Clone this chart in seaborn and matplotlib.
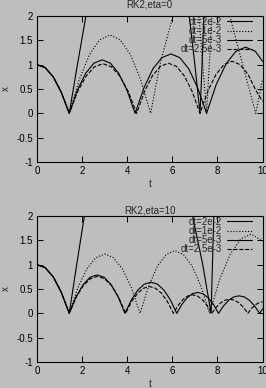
import matplotlib
matplotlib.use("Agg")
import matplotlib.pyplot as plt
import seaborn as sns
from matplotlib.ticker import FuncFormatter

# ---------------- data ----------------
labels = ["dt=2e-2", "dt=1e-2", "dt=5e-3", "dt=2.5e-3"]
styles = ["-", ":", "-", "--"]
titles = ["RK2,eta=0", "RK2,eta=10"]

# top panel: eta=0
top_t_2e2 = [0, .36, .72, 1.07, 1.43, 1.8, 2.17, 2.45, 6.45, 6.75, 7.0, 7.23, 7.32, 7.4, 7.5]
top_x_2e2 = [1, .94, .75, .44, 0, 1.02, 2.0, 2.8, 2.8, 2.0, 1.0, 0, 1.0, 2.0, 2.8]

top_t_1e2 = [0, .36, .72, 1.07, 1.43, 1.88, 2.33, 2.78, 3.235, 3.69, 4.14, 4.59, 5.04,
             5.45, 6.05, 6.4, 6.9, 7.18, 7.35, 7.52, 7.64, 7.76, 7.9, 8.2, 8.55, 9.12, 9.7, 10.0]
top_x_1e2 = [1, .94, .75, .44, 0, .70, 1.21, 1.51, 1.61, 1.51, 1.21, .70, 0,
             1.0, 2.04, 2.8, 2.8, 2.0, 1.0, 0, 1.0, 2.0, 2.8, 2.8, 2.0, 1.0, 0, 0.7]

top_t_5e3 = [0, .36, .72, 1.07, 1.43, 1.795, 2.16, 2.525, 2.89, 3.255, 3.62, 3.985, 4.35,
             4.75, 5.14, 5.54, 5.94, 6.33, 6.73, 7.12, 7.52, 7.95, 8.39, 8.82, 9.25, 9.68, 10.0]
top_x_5e3 = [1, .94, .75, .44, 0, .48, .825, 1.03, 1.10, 1.03, .825, .48, 0,
             .53, .915, 1.145, 1.22, 1.145, .915, .53, 0, .595, 1.02, 1.275, 1.36, 1.275, 1.07]

top_t_25e3 = [0, .36, .72, 1.07, 1.43, 1.80, 2.18, 2.55, 2.925, 3.30, 3.67, 4.05, 4.42,
              4.77, 5.12, 5.475, 5.825, 6.18, 6.53, 6.88, 7.23, 7.585, 7.94, 8.295, 8.65,
              9.0, 9.36, 9.71, 10.0]
top_x_25e3 = [1, .94, .75, .44, 0, .446, .765, .956, 1.02, .956, .765, .446, 0,
              .45, .7725, .966, 1.03, .966, .7725, .45, 0, .468, .8025, 1.003, 1.07,
              1.003, .8025, .468, .25]

# bottom panel: eta=10
bot_t_2e2 = [0, .36, .72, 1.07, 1.43, 1.76, 2.1, 2.4, 6.6, 6.9, 7.35, 7.72, 7.78, 7.84, 7.9]
bot_x_2e2 = [1, .94, .75, .44, 0, 1.0, 2.0, 2.8, 2.8, 2.0, 1.0, 0, 1.0, 2.0, 2.8]

bot_t_1e2 = [0, .36, .72, 1.07, 1.43, 1.82, 2.215, 2.61, 3.0, 3.39, 3.785, 4.18, 4.57,
             4.955, 5.34, 5.725, 6.11, 6.495, 6.88, 7.265, 7.65, 8.11, 8.575, 9.04, 9.5, 10.0]
bot_x_1e2 = [1, .94, .75, .44, 0, .534, .915, 1.144, 1.22, 1.144, .915, .534, 0,
             .564, .968, 1.209, 1.29, 1.209, .968, .564, 0, .71, 1.22, 1.53, 1.63, 1.48]

bot_t_5e3 = [0, .36, .72, 1.07, 1.43, 1.74, 2.05, 2.355, 2.665, 2.975, 3.28, 3.59, 3.9,
             4.19, 4.475, 4.76, 5.05, 5.34, 5.625, 5.91, 6.2, 6.43, 6.66, 6.89, 7.125,
             7.355, 7.585, 7.82, 8.05, 8.28, 8.505, 8.73, 8.96, 9.19, 9.415, 9.64, 9.87, 10.0]
bot_x_5e3 = [1, .94, .75, .44, 0, .346, .593, .741, .79, .741, .593, .346, 0,
             .28, .48, .60, .64, .60, .48, .28, 0, .188, .3225, .403, .43,
             .403, .3225, .188, 0, .1575, .27, .3375, .36, .3375, .27, .1575, 0, .09]

bot_t_25e3 = [0, .36, .72, 1.07, 1.43, 1.74, 2.055, 2.37, 2.68, 2.99, 3.305, 3.62, 3.93,
              4.195, 4.46, 4.725, 4.99, 5.255, 5.52, 5.785, 6.05, 6.2625, 6.475, 6.6875, 6.9,
              7.1125, 7.325, 7.5375, 7.75, 7.95, 8.15, 8.35, 8.55, 8.75, 8.95, 9.15, 9.35,
              9.52, 9.7, 9.87, 10.0]
bot_x_25e3 = [1, .94, .75, .44, 0, .3325, .57, .7125, .76, .7125, .57, .3325, 0,
              .24, .4125, .516, .55, .516, .4125, .24, 0, .166, .285, .356, .38,
              .356, .285, .166, 0, .127, .2175, .272, .29, .272, .2175, .127, 0,
              .105, .18, .225, .238]

xticks = [0, 2, 4, 6, 8, 10]
yticks = [-1, -0.5, 0, 0.5, 1, 1.5, 2]

panels = [
    [(top_t_2e2, top_x_2e2), (top_t_1e2, top_x_1e2), (top_t_5e3, top_x_5e3), (top_t_25e3, top_x_25e3)],
    [(bot_t_2e2, bot_x_2e2), (bot_t_1e2, bot_x_1e2), (bot_t_5e3, bot_x_5e3), (bot_t_25e3, bot_x_25e3)],
]

# ---------------- style ----------------
sns.set_theme(style="ticks")
bg = "#bebebe"
plt.rcParams["font.family"] = ["Liberation Sans", "DejaVu Sans"]
plt.rcParams["axes.unicode_minus"] = False

fig = plt.figure(figsize=(2.66, 3.88), dpi=100, facecolor=bg)
W, H = 266, 388
axes_px = [(37, 16, 225.5, 146), (37, 216, 225.5, 146)]
title_pads = [6.0, 1.5]

fmt = FuncFormatter(lambda v, p: "%g" % v)

for i, (lx, ty, w, h) in enumerate(axes_px):
    ax = fig.add_axes([lx / W, 1 - (ty + h) / H, w / W, h / H])
    ax.set_facecolor(bg)
    for (tt, xx), lab, ls in zip(panels[i], labels, styles):
        sns.lineplot(x=tt, y=xx, ax=ax, sort=False, estimator=None, color="black",
                     linewidth=0.8, linestyle=ls, label=lab)
    ax.set_xlim(0, 10)
    ax.set_ylim(-1, 2)
    ax.set_xticks(xticks)
    ax.set_yticks(yticks)
    ax.xaxis.set_major_formatter(fmt)
    ax.yaxis.set_major_formatter(fmt)
    ax.tick_params(direction="in", top=True, right=True, length=4, width=0.7,
                   labelsize=7, pad=3, colors="black")
    for sp in ax.spines.values():
        sp.set_linewidth(0.8)
        sp.set_color("black")
    ax.set_xlabel("t", fontsize=7, labelpad=2)
    ax.set_ylabel("x", fontsize=7, labelpad=4)
    ax.set_title(titles[i], fontsize=7, pad=title_pads[i])
    hs, ls_ = ax.get_legend_handles_labels()
    ax.legend(hs, ls_, loc="upper right", bbox_to_anchor=(0.955, 0.995), frameon=False,
              markerfirst=False, fontsize=7, handlelength=2.6, handletextpad=0.5,
              labelspacing=-0.08, borderpad=0, borderaxespad=0)

fig.savefig("out.png", dpi=100, facecolor=bg)
